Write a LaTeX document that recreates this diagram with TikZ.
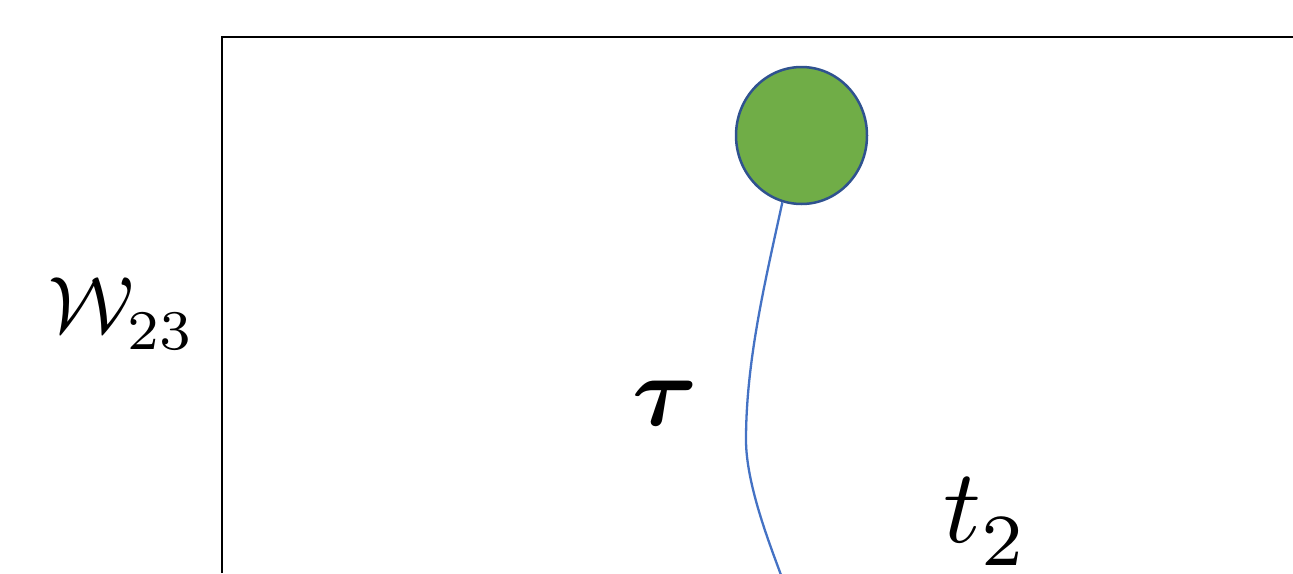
\documentclass[tikz,border=0pt]{standalone}
\usepackage{amsmath}
\usetikzlibrary{shapes.geometric}
\definecolor{ballgreen}{HTML}{70AD47}
\definecolor{balledge}{HTML}{2F528F}
\definecolor{pathblue}{HTML}{4472C4}
\newcommand{\lowsub}[1]{\raisebox{-0.7pt}{$\scriptstyle #1$}}
\tikzset{
  lbl/.style={inner sep=0pt,anchor=base}
}
\begin{document}
\begin{tikzpicture}[x=1pt,y=-1pt]
  \useasboundingbox (0,0) rectangle (1293,573);
  \draw[line width=2.5pt] (222,573) -- (222,37) -- (1293,37);
  \node[ellipse,draw=balledge,fill=ballgreen,line width=2.5pt,
        minimum width=131pt,minimum height=137pt,inner sep=0pt] (ball) at (801.5,135.5) {};
  \coordinate (bend) at (746,440);
  \coordinate (tail) at (781,575);
  \draw[pathblue,line width=2.3pt] (ball.254) .. controls (765,282) and (746,361) .. (bend)
    .. controls (746,484) and (770,545) .. (tail);
  \node[lbl,scale=8] (wlabel) at (122,332) {$\mathcal{W}_{\lowsub{23}}$};
  \node[lbl,scale=10] (taulabel) at (665,425) {$\boldsymbol{\tau}$};
  \node[lbl,scale=10.5] (tlabel) at (986,542) {$t_{\lowsub{2}}$};
\end{tikzpicture}
\end{document}
